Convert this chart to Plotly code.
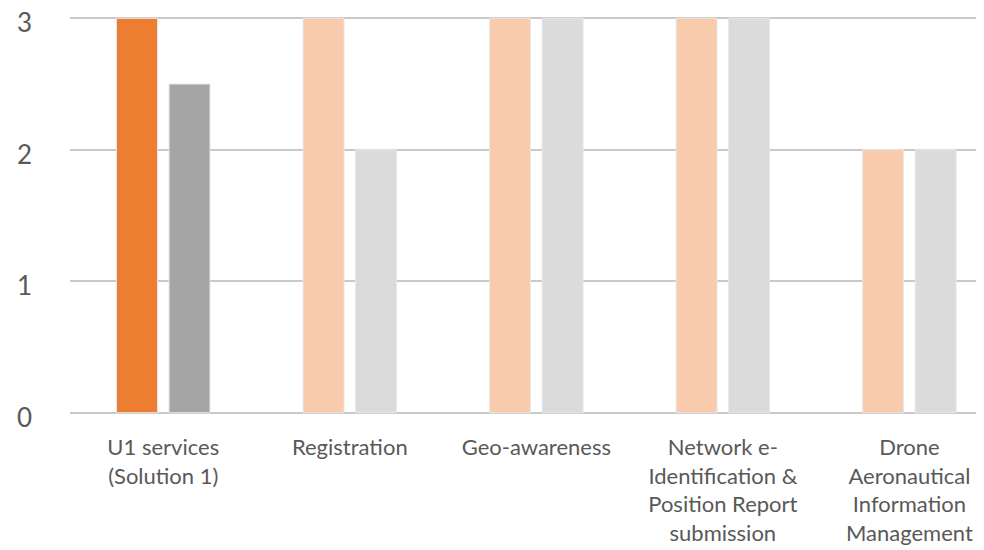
import plotly.graph_objects as go

categories = ["U1 services<br>(Solution 1)", "Registration", "Geo-awareness",
              "Network e-<br>Identification &<br>Position Report<br>submission",
              "Drone<br>Aeronautical<br>Information<br>Management"]
series1 = [3, 3, 3, 3, 2]
series2 = [2.5, 2, 3, 3, 2]
colors1 = ["#ED7D31", "#F8CBAD", "#F8CBAD", "#F8CBAD", "#F8CBAD"]
colors2 = ["#A5A5A5", "#DBDBDB", "#DBDBDB", "#DBDBDB", "#DBDBDB"]
y_ticks = [0, 1, 2, 3]

fig = go.Figure()
fig.add_trace(go.Bar(x=list(range(len(categories))), y=series1,
                     marker=dict(color=colors1, line=dict(color="#E8E8E8", width=1))))
fig.add_trace(go.Bar(x=list(range(len(categories))), y=series2,
                     marker=dict(color=colors2, line=dict(color="#E8E8E8", width=1))))

# page body has an 8px default margin, so the figure is offset by 8px
fig.update_layout(
    width=976, height=542,
    margin=dict(l=62, r=0, t=9, b=136),
    barmode="group", bargap=0.437, bargroupgap=0.22,
    showlegend=False,
    plot_bgcolor="white", paper_bgcolor="white",
    font=dict(family="Lato, Open Sans, sans-serif", color="#595959"),
)
fig.update_xaxes(
    range=[-0.5, 4.4], tickmode="array", tickvals=list(range(len(categories))),
    ticktext=categories, showgrid=False, zeroline=False, showline=False,
    tickfont=dict(size=22), ticklabelstandoff=18, automargin=False,
    ticklabeloverflow="allow",
)
fig.update_yaxes(
    range=[-0.01, 3.01], tickvals=y_ticks, showgrid=True, gridcolor="#C9C9C9", gridwidth=2,
    zeroline=False, tickfont=dict(size=26), ticklabelstandoff=37, automargin=False,
    ticklabeloverflow="allow", ticklabelshift=5,
)
fig.write_html("out.html")
